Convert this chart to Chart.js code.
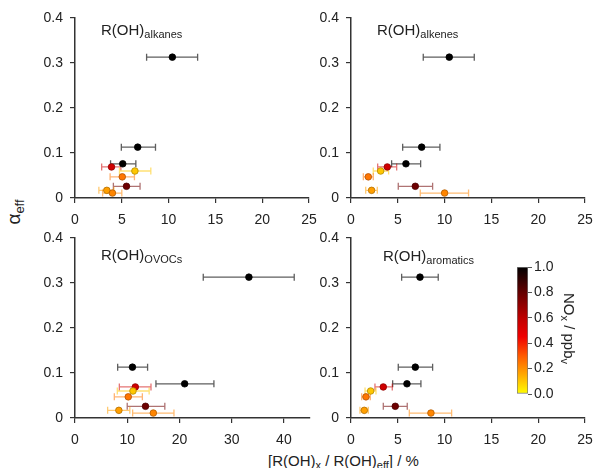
<!DOCTYPE html>
<html>
<head>
<meta charset="utf-8">
<script src="https://cdn.jsdelivr.net/npm/chart.js@4.4.1/dist/chart.umd.min.js"></script>
<style>
  body { margin: 0; background: #fff; font-family: "Liberation Sans", Arial, sans-serif; color: #222; }
  #wrap { position: relative; width: 595px; height: 468px; overflow: hidden; }
  canvas { position: absolute; }
  .ttl { position: absolute; font-size: 15px; white-space: nowrap; color: #222; }
  .ttl sub { font-size: 11px; vertical-align: -3px; }
  .rot { position: absolute; white-space: nowrap; transform-origin: center center; color: #222; }
</style>
</head>
<body>
<div id="wrap">
  <canvas id="c1"></canvas>
  <canvas id="c2"></canvas>
  <canvas id="c3"></canvas>
  <canvas id="c4"></canvas>
  <canvas id="cbar"></canvas>

  <div class="ttl" style="left:101px; top:21px;">R(OH)<sub>alkanes</sub></div>
  <div class="ttl" style="left:377px; top:21px;">R(OH)<sub>alkenes</sub></div>
  <div class="ttl" style="left:101px; top:246px;">R(OH)<sub>OVOCs</sub></div>
  <div class="ttl" style="left:383px; top:247px;">R(OH)<sub>aromatics</sub></div>

  <div class="ttl" style="left:268px; top:452px;">[R(OH)<sub>x</sub> / R(OH)<sub>eff</sub>] / %</div>

  <div class="rot" id="ytitle" style="font-size:19px;">α<sub style="font-size:13px; vertical-align:-4px;">eff</sub></div>
  <div class="rot" id="cbtitle" style="font-size:15px;">NO<sub style="font-size:11px; vertical-align:-3px;">x</sub> / ppb<sub style="font-size:11px; vertical-align:-3px;">v</sub></div>
</div>

<script>
// ==========================================
// DATA
// ==========================================

// alpha_eff is shared by the nine points of every panel
const alphaEff = [0.313, 0.113, 0.076, 0.069, 0.060, 0.047, 0.026, 0.017, 0.011];
// NOx (ppbv) used for the marker colour
const noxPpbv = [1.0, 1.0, 1.0, 0.55, 0.1, 0.25, 0.78, 0.17, 0.22];

// alkanes
const alkanesX  = [10.4, 6.7, 5.1, 3.9, 6.4, 5.05, 5.5, 3.4, 4.0];
const alkanesLo = [7.65, 4.95, 3.8, 2.85, 4.75, 3.75, 4.1, 2.55, 2.95];
const alkanesHi = [13.1, 8.6, 6.5, 4.9, 8.1, 6.35, 6.95, 4.15, 5.0];

// alkenes
const alkenesX  = [10.5, 7.55, 5.87, 3.88, 3.17, 1.85, 6.87, 2.2, 10.0];
const alkenesLo = [7.72, 5.52, 4.34, 2.85, 2.38, 1.32, 5.05, 1.57, 7.4];
const alkenesHi = [13.17, 9.5, 7.44, 4.88, 4.02, 2.38, 8.72, 2.81, 12.56];

// OVOCs
const ovocsX  = [33.3, 11.0, 21.0, 11.55, 11.1, 10.2, 13.5, 8.4, 15.0];
const ovocsLo = [24.56, 8.17, 15.5, 8.49, 8.1, 7.53, 10.0, 6.25, 11.04];
const ovocsHi = [41.98, 13.9, 26.6, 14.55, 14.2, 12.9, 17.2, 10.5, 18.95];

// aromatics
const aromaticsX  = [7.37, 6.87, 5.98, 3.45, 2.1, 1.6, 4.73, 1.42, 8.54];
const aromaticsLo = [5.41, 5.05, 4.45, 2.56, 1.5, 1.14, 3.45, 0.96, 6.23];
const aromaticsHi = [9.32, 8.72, 7.47, 4.41, 2.67, 2.06, 6.01, 1.85, 10.75];

// axis ticks
const xTicksNarrow = [0, 5, 10, 15, 20, 25];
const xTicksWide = [0, 10, 20, 30, 40];
const yTicks = [0, 0.1, 0.2, 0.3, 0.4];
const cbarTicks = [0, 0.2, 0.4, 0.6, 0.8, 1.0];

// colour map (NOx 0 -> yellow, 1 -> black)
const cmapStops = [
  [0.0, [255, 255, 0]],
  [0.15, [255, 170, 0]],
  [0.3, [255, 90, 0]],
  [0.45, [240, 0, 0]],
  [0.6, [190, 0, 0]],
  [0.8, [100, 0, 0]],
  [1.0, [0, 0, 0]]
];

function cmap(v) {
  v = Math.max(0, Math.min(1, v));
  for (let i = 1; i < cmapStops.length; i++) {
    if (v <= cmapStops[i][0]) {
      const a = cmapStops[i - 1], b = cmapStops[i];
      const t = (v - a[0]) / (b[0] - a[0]);
      return a[1].map((c, k) => Math.round(c + (b[1][k] - c) * t));
    }
  }
  return cmapStops[cmapStops.length - 1][1];
}
const rgb = (c, a) => a === undefined ? `rgb(${c[0]},${c[1]},${c[2]})` : `rgba(${c[0]},${c[1]},${c[2]},${a})`;

// ==========================================
// ERROR BAR PLUGIN (horizontal bars, drawn under points)
// ==========================================
const errorBars = {
  id: 'errorBars',
  beforeDatasetsDraw(chart) {
    const ctx = chart.ctx;
    const xs = chart.scales.x, ys = chart.scales.y;
    chart.data.datasets.forEach(ds => {
      if (!ds.xLo) return;
      ds.data.forEach((p, i) => {
        const y = ys.getPixelForValue(p.y);
        const x0 = xs.getPixelForValue(ds.xLo[i]);
        const x1 = xs.getPixelForValue(ds.xHi[i]);
        const col = cmap(ds.nox[i]);
        ctx.save();
        ctx.strokeStyle = ds.nox[i] >= 0.95 ? 'rgba(40,40,40,0.75)' : rgb(col, 0.55);
        ctx.lineWidth = 1.3;
        ctx.beginPath();
        ctx.moveTo(x0, y); ctx.lineTo(x1, y);
        ctx.moveTo(x0, y - 3.5); ctx.lineTo(x0, y + 3.5);
        ctx.moveTo(x1, y - 3.5); ctx.lineTo(x1, y + 3.5);
        ctx.stroke();
        ctx.restore();
      });
    });
  }
};

// ==========================================
// PANELS
// ==========================================
const tickFont = { family: '"Liberation Sans", Arial, sans-serif', size: 14 };
const axisCol = '#333';

function makePanel(id, left, top, width, xs, lo, hi, xMax, xTickVals) {
  const cv = document.getElementById(id);
  const height = 220;
  cv.width = width; cv.height = height;
  cv.style.left = left + 'px'; cv.style.top = top + 'px';
  cv.style.width = width + 'px'; cv.style.height = height + 'px';

  const fills = noxPpbv.map(v => rgb(cmap(v)));
  const borders = noxPpbv.map(v => rgb(cmap(v).map(c => Math.round(c * 0.7))));

  return new Chart(cv.getContext('2d'), {
    type: 'scatter',
    data: {
      datasets: [{
        data: xs.map((x, i) => ({ x: x, y: alphaEff[i] })),
        xLo: lo, xHi: hi, nox: noxPpbv,
        pointBackgroundColor: fills,
        pointBorderColor: borders,
        pointBorderWidth: 0.8,
        pointRadius: 3.3
      }]
    },
    options: {
      responsive: false,
      animation: false,
      devicePixelRatio: 1,
      layout: { padding: { top: 10, right: 12, left: 0, bottom: 0 } },
      plugins: { legend: { display: false }, tooltip: { enabled: false } },
      scales: {
        x: {
          type: 'linear', min: 0, max: xMax,
          afterBuildTicks: s => { s.ticks = xTickVals.map(v => ({ value: v })); },
          afterFit: s => { s.height = 30; s.paddingLeft = 0; s.paddingRight = 0; },
          ticks: { font: tickFont, color: '#222', padding: 9, maxRotation: 0 },
          grid: { drawOnChartArea: false, tickLength: 5, color: axisCol, lineWidth: 1.2 },
          border: { color: axisCol, width: 1.5 }
        },
        y: {
          type: 'linear', min: 0, max: 0.4,
          afterBuildTicks: s => { s.ticks = yTicks.map(v => ({ value: v })); },
          afterFit: s => { s.width = 35; s.paddingTop = 0; s.paddingBottom = 0; },
          ticks: { font: tickFont, color: '#222', padding: 7 },
          grid: { drawOnChartArea: false, tickLength: 5, color: axisCol, lineWidth: 1.2 },
          border: { color: axisCol, width: 1.5 }
        }
      }
    },
    plugins: [errorBars]
  });
}

makePanel('c1', 40, 8, 281, alkanesX, alkanesLo, alkanesHi, 25, xTicksNarrow);
makePanel('c2', 316, 8, 281, alkenesX, alkenesLo, alkenesHi, 25, xTicksNarrow);
makePanel('c3', 40, 228, 282, ovocsX, ovocsLo, ovocsHi, 45, xTicksWide);
makePanel('c4', 316, 228, 281, aromaticsX, aromaticsLo, aromaticsHi, 25, xTicksNarrow);

// ==========================================
// COLOUR BAR
// ==========================================
(function () {
  const cv = document.getElementById('cbar');
  const w = 60, h = 147;
  cv.width = w; cv.height = h;
  cv.style.left = '510px'; cv.style.top = '257px';
  cv.style.width = w + 'px'; cv.style.height = h + 'px';

  new Chart(cv.getContext('2d'), {
    type: 'bar',
    data: {
      labels: [''],
      datasets: [{
        data: [1],
        barPercentage: 1, categoryPercentage: 1,
        borderColor: '#777', borderWidth: 1, borderSkipped: false,
        backgroundColor: c => {
          const a = c.chart.chartArea;
          if (!a) return '#000';
          const g = c.chart.ctx.createLinearGradient(0, a.bottom, 0, a.top);
          cmapStops.forEach(s => g.addColorStop(s[0], rgb(s[1])));
          return g;
        }
      }]
    },
    options: {
      responsive: false,
      animation: false,
      devicePixelRatio: 1,
      layout: { padding: { top: 10, bottom: 10, left: 7, right: 0 } },
      plugins: { legend: { display: false }, tooltip: { enabled: false } },
      scales: {
        x: { display: false },
        y: {
          position: 'right', min: 0, max: 1,
          afterBuildTicks: s => { s.ticks = cbarTicks.map(v => ({ value: v })); },
          afterFit: s => { s.width = 42; s.paddingTop = 0; s.paddingBottom = 0; },
          ticks: { font: tickFont, color: '#222', padding: 2, callback: v => v.toFixed(1) },
          grid: { drawOnChartArea: false, tickLength: 4, color: '#555', lineWidth: 1 },
          border: { display: false }
        }
      }
    }
  });
})();

// rotated titles: place by centre
function placeRot(id, cx, cy, deg) {
  const el = document.getElementById(id);
  const r = el.getBoundingClientRect();
  el.style.left = (cx - r.width / 2) + 'px';
  el.style.top = (cy - r.height / 2) + 'px';
  el.style.transform = `rotate(${deg}deg)`;
}
placeRot('ytitle', 15, 212, -90);
placeRot('cbtitle', 569, 328, 90);
</script>
</body>
</html>
